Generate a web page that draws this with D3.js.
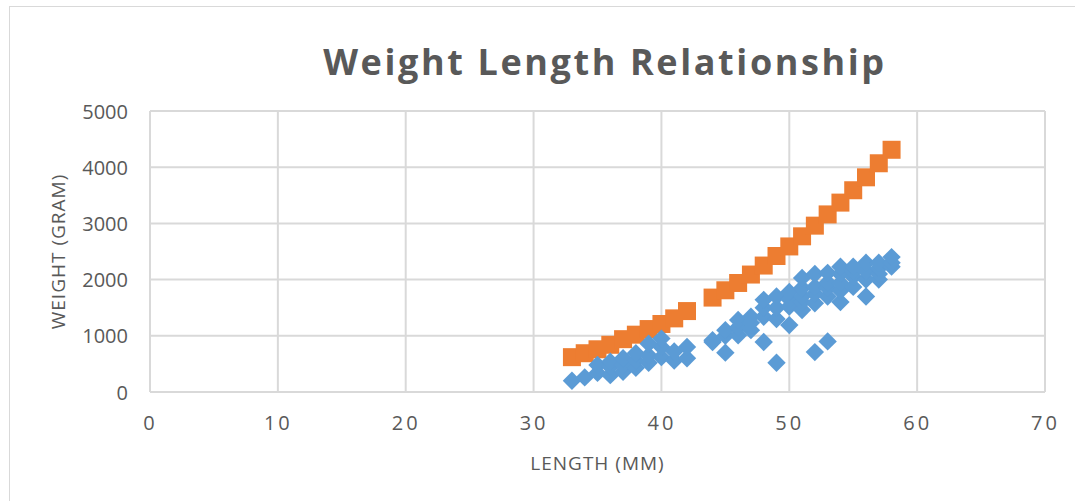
<!DOCTYPE html>
<html>
<head>
<meta charset="utf-8">
<script src="https://cdn.jsdelivr.net/npm/d3@7"></script>
<style>
  body { margin: 0; background: #fff; }
  svg text { font-family: "Open Sans", "Liberation Sans", sans-serif; fill: #595959; }
</style>
</head>
<body>
<svg id="chart"></svg>
<script>
// Orange series: one weight per length
const orangeLength = [33, 34, 35, 36, 37, 38, 39, 40, 41, 42, 44, 45, 46, 47, 48, 49, 50, 51, 52, 53, 54, 55, 56, 57, 58];
const orangeWeight = [620, 690, 760, 840, 940, 1020, 1120, 1210, 1310, 1440, 1680, 1810, 1940, 2090, 2250, 2420, 2590, 2770, 2960, 3160, 3370, 3590, 3820, 4070, 4310];

// Blue series: observed samples
const blueLength = [33, 34, 35, 35, 36, 36, 36, 37, 37, 37, 38, 38, 38, 39, 39, 39, 40, 40, 40, 41, 41, 42, 42,
  44, 44, 45, 45, 45, 46, 46, 46, 47, 47, 47, 48, 48, 48, 48, 49, 49, 49, 49, 50, 50, 50, 50,
  51, 51, 51, 51, 51, 52, 52, 52, 52, 52, 53, 53, 53, 53, 53, 54, 54, 54, 54, 54, 55, 55, 55, 55,
  56, 56, 56, 56, 57, 57, 57, 57, 58, 58, 58];
const blueWeight = [200, 260, 340, 480, 300, 450, 540, 360, 480, 600, 430, 560, 690, 520, 650, 860, 620, 800, 950, 560, 720, 600, 800,
  890, 920, 700, 1000, 1100, 1010, 1150, 1280, 1100, 1230, 1340, 890, 1340, 1500, 1640, 520, 1300, 1500, 1700, 1190, 1520, 1650, 1780,
  1460, 1600, 1700, 1850, 2030, 710, 1580, 1750, 1870, 2100, 900, 1700, 1850, 1950, 2120, 1600, 1800, 1940, 2100, 2230, 1870, 2050, 2150, 2230,
  1700, 2000, 2150, 2300, 2000, 2100, 2200, 2300, 2230, 2300, 2400];

const xTicks = [0, 10, 20, 30, 40, 50, 60, 70];
const yTicks = [0, 1000, 2000, 3000, 4000, 5000];

const W = 1075, H = 501;
const margin = { top: 111, right: 30, bottom: 109, left: 150 };
const width = W - margin.left - margin.right;
const height = H - margin.top - margin.bottom;

const svg = d3.select('#chart').attr('width', W).attr('height', H);

// outer chart frame
svg.append('rect')
  .attr('x', 9.5).attr('y', 6.5)
  .attr('width', W + 20).attr('height', H + 20)
  .attr('fill', 'none').attr('stroke', '#d9d9d9').attr('stroke-width', 1);

const chart = svg.append('g').attr('transform', `translate(${margin.left},${margin.top})`);

const x = d3.scaleLinear().domain([0, 70]).range([0, width]);
const y = d3.scaleLinear().domain([0, 5000]).range([height, 0]);

// gridlines
chart.append('g')
  .selectAll('line').data(xTicks).join('line')
  .attr('x1', d => x(d)).attr('x2', d => x(d))
  .attr('y1', 0).attr('y2', height)
  .attr('stroke', '#d9d9d9').attr('stroke-width', 2);
chart.append('g')
  .selectAll('line').data(yTicks).join('line')
  .attr('x1', 0).attr('x2', width)
  .attr('y1', d => y(d)).attr('y2', d => y(d))
  .attr('stroke', '#d9d9d9').attr('stroke-width', 2);

// axes (labels only)
const xAxis = d3.axisBottom(x).tickValues(xTicks).tickSize(0).tickPadding(24);
const yAxis = d3.axisLeft(y).tickValues(yTicks).tickFormat(d3.format('d')).tickSize(0).tickPadding(22);

const xAxisG = chart.append('g').attr('transform', `translate(0,${height})`).call(xAxis);
const yAxisG = chart.append('g').call(yAxis);
[xAxisG, yAxisG].forEach(g => {
  g.select('.domain').remove();
  g.selectAll('text').style('font-size', '20px').attr('fill', '#595959');
});
xAxisG.selectAll('text').style('letter-spacing', '3px');
yAxisG.selectAll('text').attr('dy', '0.35em');

// series
const orange = orangeLength.map((l, i) => ({ l, w: orangeWeight[i] }));
const blue = blueLength.map((l, i) => ({ l, w: blueWeight[i] }));

chart.append('g').selectAll('path').data(orange).join('path')
  .attr('d', d3.symbol().type(d3.symbolSquare).size(18 * 18))
  .attr('transform', d => `translate(${x(d.l)},${y(d.w)})`)
  .attr('fill', '#ED7D31');

chart.append('g').selectAll('path').data(blue).join('path')
  .attr('d', d3.symbol().type(d3.symbolSquare).size(13 * 13))
  .attr('transform', d => `translate(${x(d.l)},${y(d.w)}) rotate(45)`)
  .attr('fill', '#5B9BD5');

// titles
svg.append('text')
  .attr('x', 605).attr('y', 75)
  .attr('text-anchor', 'middle')
  .style('font-size', '36px').style('font-weight', 'bold').style('letter-spacing', '2.6px')
  .text('Weight Length Relationship');

svg.append('text')
  .attr('transform', `translate(65,${margin.top + height / 2}) rotate(-90)`)
  .attr('text-anchor', 'middle')
  .style('font-size', '19px').style('letter-spacing', '1px')
  .text('WEIGHT (GRAM)');

svg.append('text')
  .attr('x', margin.left + width / 2).attr('y', 470)
  .attr('text-anchor', 'middle')
  .style('font-size', '19px').style('letter-spacing', '1px')
  .text('LENGTH (MM)');
</script>
</body>
</html>
